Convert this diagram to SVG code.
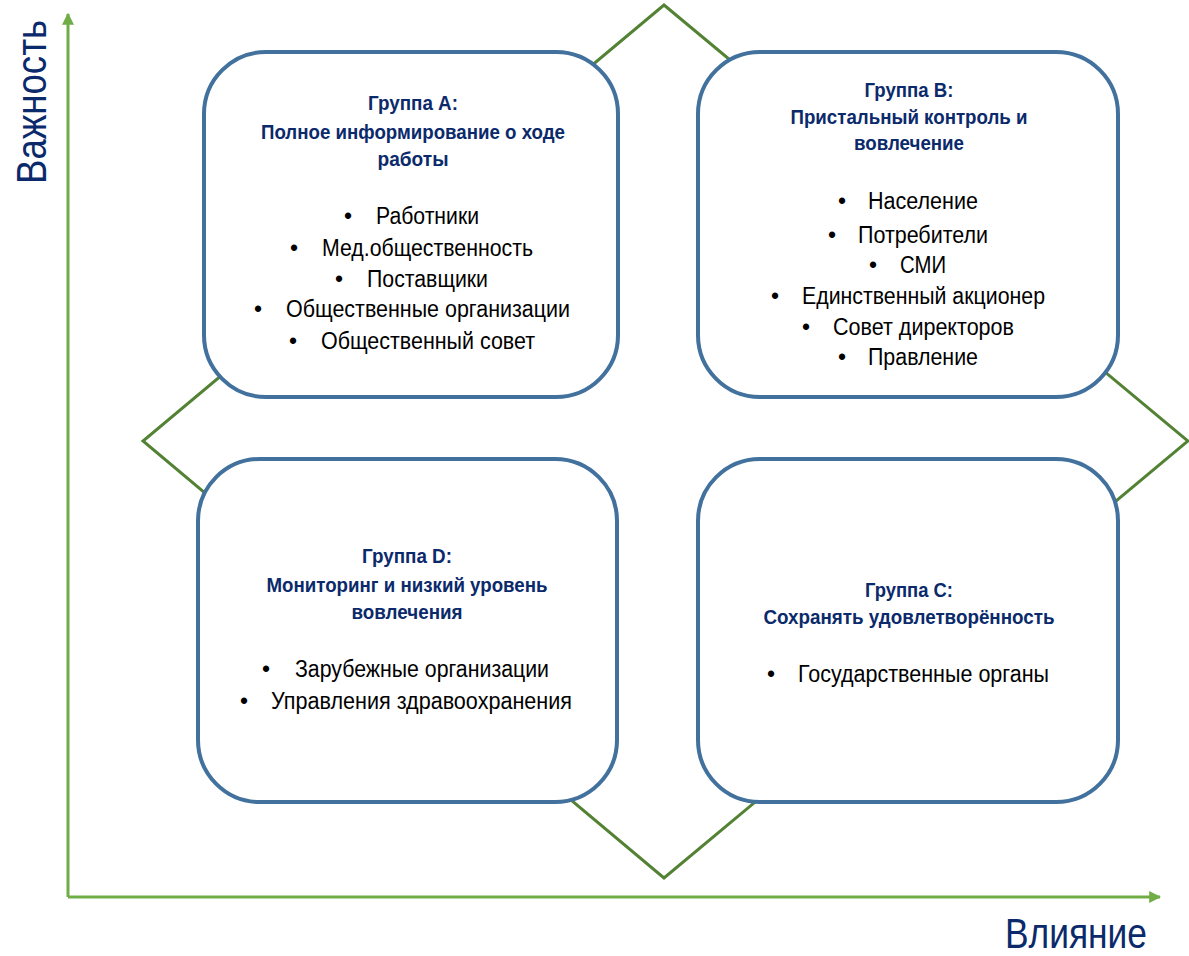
<svg xmlns="http://www.w3.org/2000/svg" width="1189" height="956" viewBox="0 0 1189 956">
<style>
.box{fill:#fff;stroke:#41719c;stroke-width:4}
.ttl{font-family:"Liberation Sans Narrow","Liberation Sans",sans-serif;font-weight:bold;font-size:20.5px;fill:#0b2a6b;text-anchor:middle}
.it{font-family:"Liberation Sans Narrow","Liberation Sans",sans-serif;font-size:23px;fill:#000}
.ax{font-family:"Liberation Sans Narrow","Liberation Sans",sans-serif;font-size:42px;fill:#0b2a6b}
</style>
<defs>
<marker id="ah" viewBox="0 0 10 10" refX="9" refY="5" markerWidth="4" markerHeight="4" orient="auto" markerUnits="strokeWidth">
<path d="M0,0 L10,5 L0,10 z" fill="#70ad47"/>
</marker>
</defs>
<g id="connectors">
<polygon points="664,5 1188,441 664,878 143,441" fill="none" stroke="#548235" stroke-width="3"/>
<line x1="68" y1="897" x2="68" y2="14" stroke="#70ad47" stroke-width="3" marker-end="url(#ah)"/>
<line x1="68" y1="897" x2="1160" y2="897" stroke="#70ad47" stroke-width="3" marker-end="url(#ah)"/>
</g>
<g id="axis-y"><text class="ax" transform="translate(46,184) rotate(-90)" textLength="164" lengthAdjust="spacingAndGlyphs">Важность</text></g>
<g id="axis-x"><text class="ax" x="1005" y="948" textLength="142" lengthAdjust="spacingAndGlyphs">Влияние</text></g>
<g id="groupA">
<rect class="box" x="204" y="52" width="414" height="345" rx="62"/>
<text class="ttl" x="413" y="110" textLength="90" lengthAdjust="spacingAndGlyphs">Группа А:</text>
<text class="ttl" x="413" y="139" textLength="304" lengthAdjust="spacingAndGlyphs">Полное информирование о ходе</text>
<text class="ttl" x="413" y="166" textLength="71" lengthAdjust="spacingAndGlyphs">работы</text>
<text class="it" x="344" y="224">•</text><text class="it" x="376" y="224" textLength="103" lengthAdjust="spacingAndGlyphs">Работники</text>
<text class="it" x="290" y="256">•</text><text class="it" x="322" y="256" textLength="211" lengthAdjust="spacingAndGlyphs">Мед.общественность</text>
<text class="it" x="335" y="287">•</text><text class="it" x="367" y="287" textLength="121" lengthAdjust="spacingAndGlyphs">Поставщики</text>
<text class="it" x="254" y="317">•</text><text class="it" x="286" y="317" textLength="284" lengthAdjust="spacingAndGlyphs">Общественные организации</text>
<text class="it" x="289" y="349">•</text><text class="it" x="321" y="349" textLength="214" lengthAdjust="spacingAndGlyphs">Общественный совет</text>
</g>
<g id="groupB">
<rect class="box" x="698" y="52" width="420" height="345" rx="62"/>
<text class="ttl" x="909" y="97" textLength="89" lengthAdjust="spacingAndGlyphs">Группа В:</text>
<text class="ttl" x="909" y="124" textLength="237" lengthAdjust="spacingAndGlyphs">Пристальный контроль и</text>
<text class="ttl" x="909" y="150" textLength="110" lengthAdjust="spacingAndGlyphs">вовлечение</text>
<text class="it" x="838" y="209">•</text><text class="it" x="868" y="209" textLength="110" lengthAdjust="spacingAndGlyphs">Население</text>
<text class="it" x="828" y="243">•</text><text class="it" x="858" y="243" textLength="130" lengthAdjust="spacingAndGlyphs">Потребители</text>
<text class="it" x="869" y="273">•</text><text class="it" x="900" y="273" textLength="46" lengthAdjust="spacingAndGlyphs">СМИ</text>
<text class="it" x="771" y="304">•</text><text class="it" x="802" y="304" textLength="243" lengthAdjust="spacingAndGlyphs">Единственный акционер</text>
<text class="it" x="802" y="335">•</text><text class="it" x="833" y="335" textLength="181" lengthAdjust="spacingAndGlyphs">Совет директоров</text>
<text class="it" x="838" y="365">•</text><text class="it" x="868" y="365" textLength="110" lengthAdjust="spacingAndGlyphs">Правление</text>
</g>
<g id="groupD">
<rect class="box" x="198" y="459" width="419" height="343" rx="62"/>
<text class="ttl" x="407" y="563" textLength="90" lengthAdjust="spacingAndGlyphs">Группа D:</text>
<text class="ttl" x="407" y="592" textLength="281" lengthAdjust="spacingAndGlyphs">Мониторинг и низкий уровень</text>
<text class="ttl" x="407" y="619" textLength="111" lengthAdjust="spacingAndGlyphs">вовлечения</text>
<text class="it" x="262" y="677">•</text><text class="it" x="295" y="677" textLength="254" lengthAdjust="spacingAndGlyphs">Зарубежные организации</text>
<text class="it" x="240" y="709">•</text><text class="it" x="271" y="709" textLength="301" lengthAdjust="spacingAndGlyphs">Управления здравоохранения</text>
</g>
<g id="groupC">
<rect class="box" x="698" y="459" width="420" height="343" rx="62"/>
<text class="ttl" x="909" y="597" textLength="88" lengthAdjust="spacingAndGlyphs">Группа С:</text>
<text class="ttl" x="909" y="624" textLength="291" lengthAdjust="spacingAndGlyphs">Сохранять удовлетворённость</text>
<text class="it" x="767" y="682">•</text><text class="it" x="798" y="682" textLength="251" lengthAdjust="spacingAndGlyphs">Государственные органы</text>
</g>
</svg>
